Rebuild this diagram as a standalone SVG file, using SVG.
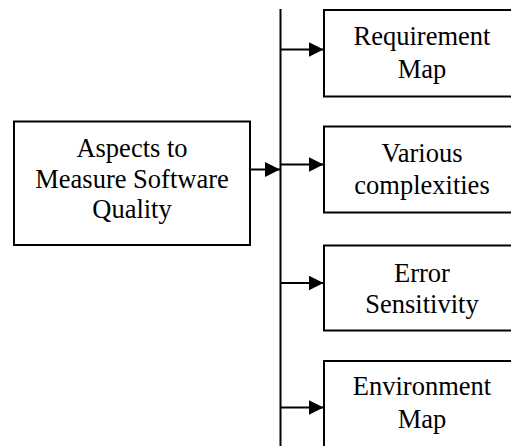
<svg xmlns="http://www.w3.org/2000/svg" width="511" height="446" viewBox="0 0 511 446">
<style>
  .box { fill: #fff; stroke: #000; stroke-width: 2; }
  .lbl { font-family: "Liberation Serif", "Times New Roman", serif; font-size: 26.5px; fill: #000; text-anchor: middle; }
  .conn { stroke: #000; stroke-width: 2; fill: none; }
</style>
<defs>
  <marker id="arr" markerUnits="userSpaceOnUse" markerWidth="16" markerHeight="16" refX="15" refY="7.5" orient="auto">
    <path d="M0,0 L15,7.5 L0,15 z" fill="#000"/>
  </marker>
</defs>
<rect width="511" height="446" fill="#fff"/>
<g id="connectors">
  <line class="conn" x1="280.5" y1="9" x2="280.5" y2="446"/>
  <line class="conn" x1="250" y1="169.5" x2="280" y2="169.5" marker-end="url(#arr)"/>
  <line class="conn" x1="280.5" y1="49.5" x2="323.5" y2="49.5" marker-end="url(#arr)"/>
  <line class="conn" x1="280.5" y1="164.5" x2="323.5" y2="164.5" marker-end="url(#arr)"/>
  <line class="conn" x1="280.5" y1="283" x2="323.5" y2="283" marker-end="url(#arr)"/>
  <line class="conn" x1="280.5" y1="407.5" x2="323.5" y2="407.5" marker-end="url(#arr)"/>
</g>
<g id="aspects">
  <rect class="box" x="14" y="121.5" width="236" height="123.5"/>
  <text class="lbl" x="132" y="156.5">Aspects to</text>
  <text class="lbl" x="132" y="187.5">Measure Software</text>
  <text class="lbl" x="132" y="217.5">Quality</text>
</g>
<g id="requirement-map">
  <rect class="box" x="324" y="10" width="196" height="86.5"/>
  <text class="lbl" x="422" y="45">Requirement</text>
  <text class="lbl" x="422" y="77.5">Map</text>
</g>
<g id="various-complexities">
  <rect class="box" x="324" y="126.5" width="196" height="86"/>
  <text class="lbl" x="422" y="162">Various</text>
  <text class="lbl" x="422" y="193.5">complexities</text>
</g>
<g id="error-sensitivity">
  <rect class="box" x="324" y="245.5" width="196" height="85"/>
  <text class="lbl" x="422" y="281.5">Error</text>
  <text class="lbl" x="422" y="312.5">Sensitivity</text>
</g>
<g id="environment-map">
  <rect class="box" x="324" y="361" width="196" height="100"/>
  <text class="lbl" x="422" y="395">Environment</text>
  <text class="lbl" x="422" y="427.5">Map</text>
</g>
</svg>
